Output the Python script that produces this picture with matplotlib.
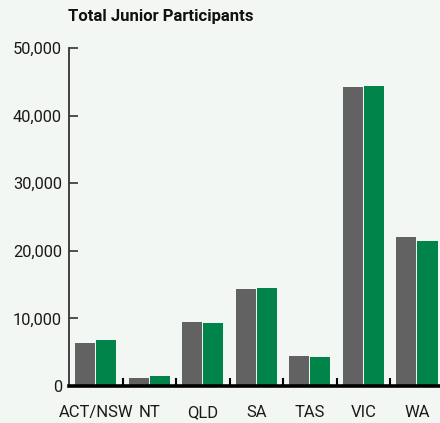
import matplotlib.pyplot as plt
from matplotlib.ticker import FuncFormatter, FixedLocator

# data
states = ["ACT/NSW", "NT", "QLD", "SA", "TAS", "VIC", "WA"]
grey_vals = [6300, 1200, 9500, 14300, 4450, 44200, 22100]
green_vals = [6800, 1500, 9250, 14550, 4300, 44400, 21500]
y_ticks = [0, 10000, 20000, 30000, 40000, 50000]

bg = "#f3f7f3"
grey = "#626262"
green = "#00844a"

plt.rcParams['font.family'] = ['Roboto', 'DejaVu Sans']

fig = plt.figure(figsize=(4.4, 4.23), dpi=100, facecolor=bg)
ax = fig.add_axes([69 / 440, 37 / 423, 371 / 440, 338 / 423])
ax.set_facecolor(bg)

x = list(range(len(states)))
w = 0.375
ax.bar([i - 0.197 for i in x], grey_vals, width=w, color=grey, linewidth=0)
ax.bar([i + 0.197 for i in x], green_vals, width=w, color=green, linewidth=0)

ax.set_xlim(-0.5, 6.43)
ax.set_ylim(0, 50000)

ax.spines['top'].set_visible(False)
ax.spines['right'].set_visible(False)
ax.spines['left'].set_color("#333333")
ax.spines['left'].set_linewidth(1.3)
ax.spines['bottom'].set_color("black")
ax.spines['bottom'].set_linewidth(2.6)

ax.set_yticks(y_ticks)
ax.yaxis.set_major_formatter(FuncFormatter(lambda v, p: f"{int(v):,}"))
ax.tick_params(axis='y', direction='in', length=6.5, width=1.2, color="#333333",
               labelsize=11.8, pad=5, labelcolor="#1a1a1a")

ax.set_xticks(x)
ax.set_xticklabels(states)
ax.tick_params(axis='x', which='major', length=0, labelsize=12, pad=14, labelcolor="#1a1a1a")
ax.xaxis.set_minor_locator(FixedLocator([i + 0.5 for i in range(6)]))
ax.tick_params(axis='x', which='minor', direction='in', length=5.5, width=1.5, color="black")

fig.text(68 / 440, 1 - 17 / 423, "Total Junior Participants", fontsize=12,
         fontweight='bold', ha='left', va='center', color="#111111")

fig.savefig("out.png", dpi=100, facecolor=bg)
plt.close(fig)
